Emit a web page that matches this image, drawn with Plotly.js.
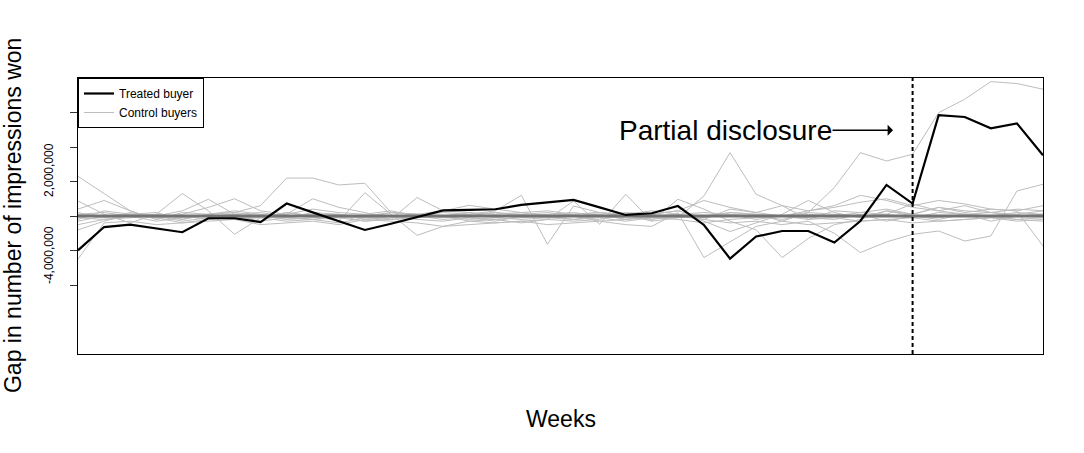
<!DOCTYPE html>
<html>
<head>
<meta charset="utf-8">
<script src="https://cdn.plot.ly/plotly-3.0.1.min.js"></script>
<style>
html,body{margin:0;padding:0;background:#fff;}
#chart{width:1084px;height:453px;}
</style>
</head>
<body>
<div id="chart"></div>
<script>
// Weeks 1..38
const weeks = [1,2,3,4,5,6,7,8,9,10,11,12,13,14,15,16,17,18,19,20,21,22,23,24,25,26,27,28,29,30,31,32,33,34,35,36,37,38];
const disclosureWeek = 33;

// Gap in impressions won, in millions
const treatedGap = [-1.99,-0.64,-0.50,-0.71,-0.94, -0.13,-0.13,-0.35,0.72,0.21, -0.31,-0.81,-0.45,-0.08,0.33,
  0.35,0.39,0.64,0.78,0.93, 0.50,0.06,0.16,0.58,-0.52, -2.47,-1.19,-0.87,-0.87,-1.54, -0.29,1.80,0.72,5.85,5.74,
  5.08,5.37,3.52];

const control01 = [2.3,1.3,0.3,-0.2,0.2, 0.1,0.2,0.6,2.2,2.2, 1.8,1.9,0.2,0.1,0.3, 0.2,0.1,0.2,0.0,0.1, 0.2,0.0,-0.1,0.1,0.2, 0.1,0.0,-0.2,0.1,0.0, 0.2,0.1,-0.1,0.2,0.1, 0.0,0.2,0.1];
const control02 = [0.87,0.1,-0.4,0.1,1.3, 0.3,-1.06,-0.1,0.2,0.0, -0.3,1.35,0.1,-1.12,-0.6, -0.5,-0.4,-0.3,-0.2,-0.3, -0.2,0.1,-0.3,-0.1,1.16, 3.67,1.26,0.6,-0.2,0.3, 0.2,0.4,0.1,0.5,0.3, 0.2,0.4,0.3];
const control03 = [0.2,-0.1,0.1,0.2,-0.2, 0.1,0.3,0.1,-0.1,0.2, 0.1,-0.1,0.2,0.1,0.0, 0.2,-0.1,0.1,0.2,0.0, 0.1,-0.2,0.1,0.3,-0.1, 0.2,0.1,-0.3,0.2,1.65, 3.67,3.19,3.58,5.99,6.77, 7.79,7.68,7.35];
const control04 = [-2.5,-0.4,-0.3,-0.5,-0.4, -0.3,-0.2,-0.5,-0.4,-0.3, -0.5,-0.2,-0.3,-0.4,-0.6, -0.3,-0.4,-0.3,-0.5,-0.4, -0.3,-0.5,-0.6,0.2,-2.41, -1.5,-0.6,-0.3,-0.5,-0.4, -0.3,-0.2,-0.4,-0.3,-0.2, -0.1,-0.3,-0.2];
const control05 = [-0.5,-0.2,0.0,-0.3,-0.1, 0.0,-0.2,-0.1,-0.3,-0.2, 0.0,-0.1,-0.2,-0.1,0.0, -0.3,-0.2,-0.1,0.0,-0.2, -0.1,-0.3,-0.1,0.0,-0.2, -0.4,-0.3,-0.5,-0.3,-1.0, -2.12,-1.5,-1.06,-0.87,-1.45, -1.16,1.45,1.84];
const control06 = [-0.8,-0.3,0.1,-0.1,-0.4, -0.2,0.0,-0.3,-0.1,-0.2, -0.4,-0.1,0.0,-0.2,-0.3, -0.1,-0.2,-0.4,-0.2,0.87, -0.48,1.26,-0.29,0.97,0.4, -0.3,-0.8,-2.41,-1.3,-0.5, -0.2,0.3,0.1,0.5,0.2, 0.4,0.29,-1.74];
const control07 = [0.4,0.9,0.3,-0.2,0.1, 0.5,1.0,0.3,0.1,0.4, 0.2,0.1,0.3,0.0,0.2, 0.1,0.3,1.2,-1.64,0.58, 0.2,0.1,0.3,0.1,-0.2, 0.4,0.2,0.6,0.3,0.5, 0.8,1.0,0.6,0.9,0.7, 0.4,0.3,0.6];
const control08 = [-0.2,0.3,0.1,0.0,-0.2, 0.1,0.2,0.0,0.1,1.0, 0.5,0.2,-0.2,1.07,0.3, 0.62,0.4,0.2,0.3,0.1, 0.2,0.0,0.1,0.3,0.9, 0.5,0.2,0.0,0.3,0.6, 1.2,0.9,0.5,0.3,0.6, 0.2,0.1,0.3];
const control09 = [0.1,-0.1,0.2,0.0,0.3, 0.97,0.1,-0.1,0.2,0.0, 0.1,-0.2,0.0,0.1,-0.1, 0.0,0.2,0.1,-0.1,0.0, 0.1,-0.2,0.0,0.1,-0.3, -0.9,-0.4,0.1,0.9,0.2, -0.1,0.3,0.0,-0.2,0.1, -0.3,0.0,0.1];
const control10 = [-0.3,0.0,0.1,-0.1,0.0, -0.2,-0.1,0.0,-0.2,-0.1, 0.0,-0.3,-0.1,0.0,-0.2, -0.1,-0.3,0.0,-0.1,-0.2, 0.0,-0.1,-0.2,0.0,-0.1, 0.1,-0.2,0.0,-0.1,-0.2, 0.1,-0.3,0.0,-0.1,0.1, 0.0,-0.2,-0.3];
const control11 = [0.1,0.2,0.0,0.1,-0.1, 0.0,0.1,0.2,0.0,0.1, -0.1,0.0,0.2,0.1,0.0, 0.1,0.2,0.0,0.1,0.2, 0.0,0.2,0.1,-0.1,0.0, 0.2,0.1,0.0,0.2,0.1, 0.0,0.1,0.7,0.3,0.1, 0.2,0.0,0.1];
const control12 = [-0.1,-0.2,-0.1,0.0,-0.3, -0.1,-0.2,0.0,-0.1,-0.2, -0.1,-0.3,-0.2,-0.1,0.0, -0.2,-0.1,-0.2,-0.1,0.0, -0.3,-0.2,-0.1,-0.2,-0.4, -0.2,-0.1,0.0,-0.2,-0.1, -0.3,-0.2,-0.1,-0.3,-0.2, -0.1,-0.2,-0.1];
const controls = [control01,control02,control03,control04,control05,control06,control07,control08,control09,control10,control11,control12];

// zero reference
const baselineWeeks = [weeks[0], weeks[weeks.length-1]];
const baselineGap = [0, 0];

// y ticks (millions) and the two printed labels
const yTickVals = [-4,-2,0,2,4,6];
const yLabelTexts = ['2,000,000','-4,000,000'];

const FONT = 'Liberation Sans, Arial, Helvetica, sans-serif';

const traces = [];
controls.forEach((c, i) => {
  traces.push({
    x: weeks, y: c, type: 'scatter', mode: 'lines',
    name: 'Control buyers', legendgroup: 'ctrl', showlegend: i === 0,
    line: {color: '#bdbdbd', width: 1}, hoverinfo: 'skip'
  });
});
traces.push({
  x: baselineWeeks, y: baselineGap, type: 'scatter', mode: 'lines',
  showlegend: false, line: {color: '#737373', width: 3}, hoverinfo: 'skip'
});
traces.push({
  x: weeks, y: treatedGap, type: 'scatter', mode: 'lines',
  name: 'Treated buyer', line: {color: '#000', width: 2.2}
});

const layout = {
  width: 1084, height: 453,
  margin: {l: 78, r: 41, t: 78, b: 99, pad: 0},
  paper_bgcolor: '#fff', plot_bgcolor: '#fff',
  font: {family: FONT, color: '#000'},
  showlegend: true,
  legend: {
    x: 0, y: 1, xanchor: 'left', yanchor: 'top',
    bordercolor: '#000', borderwidth: 1, bgcolor: '#fff',
    font: {size: 12, family: FONT}, traceorder: 'reversed',
    itemwidth: 30, tracegroupgap: 0
  },
  xaxis: {
    range: [1, 38], showgrid: false, zeroline: false,
    showline: true, mirror: true, linecolor: '#000', linewidth: 1,
    ticks: '', showticklabels: false
  },
  yaxis: {
    range: [-8, 8], showgrid: false, zeroline: false,
    showline: true, mirror: true, linecolor: '#000', linewidth: 1,
    tickvals: yTickVals, ticks: 'outside', ticklen: 7, tickcolor: '#333', tickwidth: 1,
    showticklabels: false
  },
  shapes: [{
    type: 'line', xref: 'x', yref: 'paper', x0: disclosureWeek, x1: disclosureWeek, y0: 0, y1: 1,
    line: {color: '#000', width: 2, dash: '4px,3px'}, layer: 'above'
  }],
  annotations: [
    {xref: 'paper', yref: 'y', x: -0.0293, y: 2.65, text: yLabelTexts[0], textangle: -90,
     showarrow: false, xanchor: 'center', yanchor: 'middle', font: {size: 12, family: FONT}},
    {xref: 'paper', yref: 'y', x: -0.0293, y: -2.28, text: yLabelTexts[1], textangle: -90,
     showarrow: false, xanchor: 'center', yanchor: 'middle', font: {size: 12, family: FONT}},
    {xref: 'paper', yref: 'paper', x: -0.0675, y: 0.503, text: 'Gap in number of impressions won', textangle: -90,
     showarrow: false, xanchor: 'center', yanchor: 'middle', font: {size: 23, family: FONT}},
    {xref: 'paper', yref: 'paper', x: 0.5, y: -0.234, text: 'Weeks',
     showarrow: false, xanchor: 'center', yanchor: 'middle', font: {size: 23, family: FONT}},
    {xref: 'x', yref: 'y', x: 32.25, y: 4.97, text: 'Partial disclosure',
     showarrow: true, ax: -167.5, ay: 0, arrowhead: 1, arrowsize: 1.2, arrowwidth: 1.5, arrowcolor: '#000',
     borderpad: 0, font: {size: 28, family: FONT}}
  ]
};

Plotly.newPlot('chart', traces, layout, {staticPlot: true, displayModeBar: false});
</script>
</body>
</html>
